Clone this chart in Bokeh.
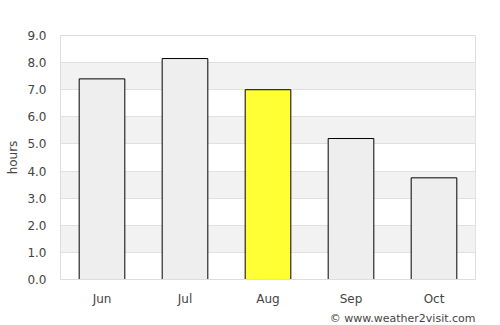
from bokeh.plotting import figure
from bokeh.models import ColumnDataSource, Title, Range1d, FixedTicker, NumeralTickFormatter
from bokeh.embed import file_html
from bokeh.resources import INLINE

months = ["Jun", "Jul", "Aug", "Sep", "Oct"]
hours = [7.4, 8.15, 7.0, 5.2, 3.75]
colors = ["#eeeeee", "#eeeeee", "#ffff33", "#eeeeee", "#eeeeee"]
yticks = [0, 1, 2, 3, 4, 5, 6, 7, 8, 9]

src = ColumnDataSource(dict(x=months, top=hours, color=colors))

p = figure(x_range=months, y_range=Range1d(0, 9), width=500, height=325,
           output_backend="svg", toolbar_location=None,
           min_border_left=60, min_border_right=25, min_border_top=35, min_border_bottom=0)
p.vbar(x="x", top="top", width=0.55, source=src, fill_color="color",
       line_color="black", line_width=1)

p.background_fill_color = "white"
p.outline_line_color = "#dddddd"
p.xgrid.grid_line_color = None
p.ygrid.grid_line_color = "#e0e0e0"
p.ygrid.band_fill_color = "#f2f2f2"
p.ygrid.band_fill_alpha = 1.0
p.yaxis.ticker = FixedTicker(ticks=yticks)
p.yaxis.formatter = NumeralTickFormatter(format="0.0")
p.yaxis.axis_label = "hours"
p.yaxis.axis_label_text_font_style = "normal"
p.yaxis.axis_label_text_font_size = "12px"
p.yaxis.axis_label_text_color = "#444444"
p.yaxis.axis_label_text_font = "DejaVu Sans"
p.yaxis.axis_label_standoff = 4
for ax in (p.xaxis, p.yaxis):
    ax.axis_line_color = "#dddddd"
    ax.major_tick_line_color = None
    ax.minor_tick_line_color = None
    ax.major_label_text_font = "DejaVu Sans"
    ax.major_label_text_font_size = "12px"
    ax.major_label_text_color = "#444444"
p.xaxis.major_label_standoff = 6
p.yaxis.major_label_standoff = 8

t = Title(text="© www.weather2visit.com", align="right",
          text_font="DejaVu Sans", text_font_size="11px",
          text_color="#444444", text_font_style="normal", standoff=2, offset=0)
p.add_layout(t, "below")

open("out.html", "w").write(file_html(p, INLINE))
